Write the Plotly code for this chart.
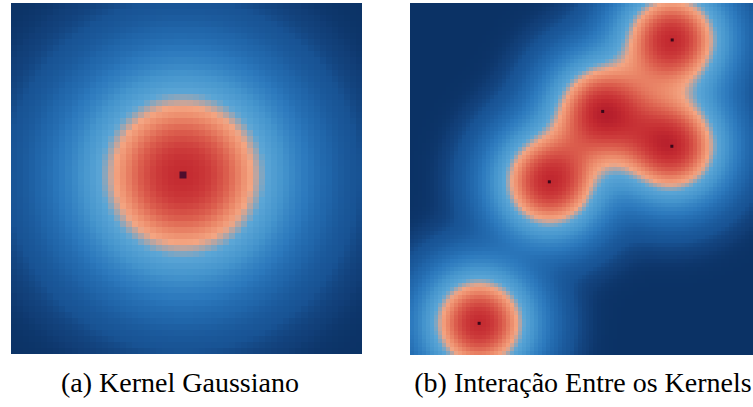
import numpy as np
import plotly.graph_objects as go

# Kernel centres (0-100 coordinate system of each panel)
single_x = [49.0]
single_y = [51.0]
single_sigma = 16.5

multi_x = [74.7, 54.9, 74.6, 39.7, 19.7]
multi_y = [89.5, 69.2, 59.3, 49.2, 9.0]
multi_sigma = 9.0

captions = ["(a) Kernel Gaussiano", "(b) Interação Entre os Kernels"]
caption_x = [180, 583]  # caption centres, in figure pixels

# Absolute density value -> colour
Z_MAX = 1.6
color_stops = [
    (0.000, "#0b3265"),
    (0.002, "#113e77"),
    (0.010, "#185394"),
    (0.040, "#2065a9"),
    (0.100, "#2c79bd"),
    (0.220, "#4595cd"),
    (0.360, "#5ba6d6"),
    (0.500, "#f4a582"),
    (0.600, "#ec8b6b"),
    (0.750, "#dc5f4e"),
    (0.900, "#cd3c3b"),
    (1.000, "#c42b31"),
    (1.150, "#ab1428"),
    (1.350, "#8a0a24"),
    (1.600, "#67001f"),
]
colorscale = [[v / Z_MAX, c] for v, c in color_stops]


def density(xs, ys, sigma, n):
    c = (np.arange(n) + 0.5) * 100.0 / n
    gx, gy = np.meshgrid(c, c)
    z = np.zeros_like(gx)
    for x0, y0 in zip(xs, ys):
        z += np.exp(-((gx - x0) ** 2 + (gy - y0) ** 2) / (2 * sigma ** 2))
    return c, z


cx1, z1 = density(single_x, single_y, single_sigma, 58)
cx2, z2 = density(multi_x, multi_y, multi_sigma, 88)

W, H = 753, 407

fig = go.Figure()
fig.add_trace(go.Heatmap(x=cx1, y=cx1, z=z1, colorscale=colorscale, zmin=0, zmax=Z_MAX,
                         showscale=False, xaxis="x", yaxis="y", hoverinfo="skip"))
fig.add_trace(go.Scatter(x=single_x, y=single_y, mode="markers",
                         marker=dict(symbol="square", size=7, color="#4f0d2c"),
                         xaxis="x", yaxis="y", hoverinfo="skip"))
fig.add_trace(go.Heatmap(x=cx2, y=cx2, z=z2, colorscale=colorscale, zmin=0, zmax=Z_MAX,
                         showscale=False, xaxis="x2", yaxis="y2", hoverinfo="skip"))
fig.add_trace(go.Scatter(x=multi_x, y=multi_y, mode="markers",
                         marker=dict(symbol="square", size=3, color="#3a0718"),
                         xaxis="x2", yaxis="y2", hoverinfo="skip"))
# Caption strip: a pixel-scaled helper axis below both panels
fig.add_trace(go.Scatter(x=caption_x, y=[H - 385] * 2, mode="text", text=captions,
                         textposition="middle center",
                         textfont=dict(family="Times New Roman", size=28, color="black"),
                         xaxis="x3", yaxis="y3", hoverinfo="skip", cliponaxis=False))

ax_common = dict(showticklabels=False, ticks="", showgrid=False, zeroline=False,
                 showline=False)
fig.update_layout(
    width=W, height=H,
    margin=dict(l=0, r=0, t=0, b=0),
    paper_bgcolor="white", plot_bgcolor="rgba(0,0,0,0)",
    showlegend=False,
    xaxis=dict(domain=[11 / W, 362 / W], range=[0, 100], **ax_common),
    yaxis=dict(domain=[(H - 354) / H, (H - 3) / H], range=[0, 100], **ax_common),
    xaxis2=dict(domain=[410 / W, 1.0], range=[0, 343 / 3.51], **ax_common),
    yaxis2=dict(domain=[(H - 355) / H, (H - 3) / H], range=[0, 100], **ax_common),
    xaxis3=dict(domain=[0, 1], range=[0, W], **ax_common),
    yaxis3=dict(domain=[0, (H - 360) / H], range=[0, H - 360], **ax_common),
)

fig.write_html("out.html")
